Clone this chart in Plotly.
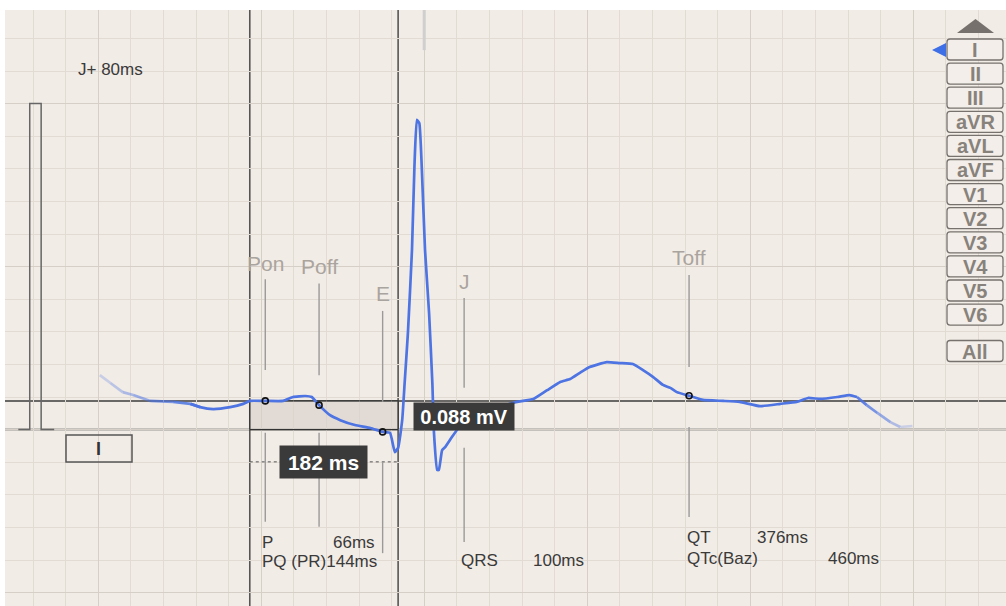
import numpy as np
import plotly.graph_objects as go

# ---------------- data ----------------
time_ms = [2, 15, 30, 43, 64, 92, 113, 125, 141, 162, 178, 186, 205, 227, 239, 254, 262, 271,
           284, 297, 315, 334, 349, 358, 364, 368, 373, 376, 380, 385, 388, 391, 394, 397, 401,
           406, 410, 412, 416, 418, 422, 426, 434, 442, 450, 469, 487, 505, 514, 534, 551, 567,
           579, 591, 603, 624, 640, 656, 668, 681, 693, 702, 710, 726, 742, 767, 787, 812, 837,
           857, 871, 886, 907, 922, 931, 943, 956, 972, 984, 999]
volt_mv = [0.167, 0.143, 0.115, 0.106, 0.088, 0.085, 0.079, 0.069, 0.063, 0.069, 0.079, 0.088,
           0.088, 0.088, 0.100, 0.103, 0.100, 0.075, 0.045, 0.029, 0.014, 0.005, -0.007, -0.010,
           -0.069, -0.056, 0.029, 0.143, 0.296, 0.551, 0.805, 0.950, 0.940, 0.805, 0.551, 0.357,
           0.143, -0.010, -0.124, -0.124, -0.063, -0.053, -0.023, 0.005, 0.029, 0.054, 0.069,
           0.079, 0.085, 0.094, 0.121, 0.146, 0.155, 0.174, 0.192, 0.207, 0.204, 0.201, 0.183,
           0.161, 0.137, 0.128, 0.115, 0.103, 0.091, 0.088, 0.085, 0.072, 0.079, 0.085, 0.097,
           0.094, 0.100, 0.106, 0.100, 0.075, 0.051, 0.023, 0.008, 0.011]

fid_names = ["Pon", "Poff", "E", "J", "Toff"]
fid_times = [205, 271, 349, 449, 725]
fid_dots = ["Pon", "Poff", "E", "Toff"]
fid_upper = [(0.461, 0.183), (0.448, 0.167), (0.364, 0.085), (0.404, 0.128), (0.474, 0.192)]
fid_lower = [(-0.010, -0.283), (-0.010, -0.298), (-0.099, -0.379), (-0.056, -0.345), (0.008, -0.268)]
fid_label_y = [0.510, 0.499, 0.419, 0.453, 0.529]

st_level_mv = 0.088
box_start_ms, box_end_ms = 186, 368
j_plus_ms = 80
qtc_baz_ms = 460
cal_pulse_mv = 1.0
r_mark_ms = 400

leads = ["I", "II", "III", "aVR", "aVL", "aVF", "V1", "V2", "V3", "V4", "V5", "V6"]

# ---------------- scales ----------------
X_RANGE = [-114.36, 1113.87]
Y_RANGE = [-0.5411, 1.2871]
BG = "#f2ece6"
FONT = "Liberation Sans, Arial, sans-serif"
TRACE = "#4d74e2"

def px(x):
    return (x - 5) / 1001.0

def py(y):
    return (606 - y) / 596.0

fid = dict(zip(fid_names, fid_times))
t = np.array(time_ms, float)
v = np.array(volt_mv, float)

fig = go.Figure()

# faded start / end segments
fade_in_end, fade_out_start = 125, 928
for i in range(len(t) - 1):
    tm = 0.5 * (t[i] + t[i + 1])
    if tm < fade_in_end:
        a = 0.2 + 0.8 * tm / fade_in_end
    elif tm > fade_out_start:
        a = max(0.15, 1 - 0.85 * (tm - fade_out_start) / (t[-1] - fade_out_start))
    else:
        continue
    fig.add_trace(go.Scatter(x=t[i:i + 2], y=v[i:i + 2], mode="lines",
                             line=dict(color=f"rgba(77,116,226,{a:.2f})", width=2.7, shape="spline"),
                             hoverinfo="skip", showlegend=False))
mask = (t >= t[t < fade_in_end].max()) & (t <= t[t > fade_out_start].min())
fig.add_trace(go.Scatter(x=t[mask], y=v[mask], mode="lines",
                         line=dict(color=TRACE, width=2.7, shape="spline", smoothing=0.4),
                         showlegend=False, hoverinfo="skip"))

# fiducial dots
dot_t = [fid[n] for n in fid_dots]
dot_v = np.interp(dot_t, t, v)
fig.add_trace(go.Scatter(x=dot_t, y=dot_v, mode="markers",
                         marker=dict(symbol="circle-open", size=6, color="#111",
                                     line=dict(width=1.6, color="#111")),
                         showlegend=False, hoverinfo="skip"))

shapes = []
annos = []

# baseline and ST-level horizontal lines
for yv in (0.0, st_level_mv):
    shapes.append(dict(type="line", xref="paper", yref="y", x0=0, x1=1, y0=yv, y1=yv,
                       line=dict(color="#3c3c3c", width=1.5), layer="between"))
# shaded box
shapes.append(dict(type="rect", xref="x", yref="y", x0=box_start_ms, x1=box_end_ms,
                   y0=0, y1=st_level_mv, fillcolor="rgba(215,208,202,0.6)",
                   line=dict(color="#333", width=1.2), layer="between"))
# full height verticals
for xv in (box_start_ms, box_end_ms):
    shapes.append(dict(type="line", xref="x", yref="paper", x0=xv, x1=xv, y0=0, y1=1,
                       line=dict(color="#555", width=1.6), layer="between"))
# R mark at top
shapes.append(dict(type="line", xref="x", yref="y", x0=r_mark_ms, x1=r_mark_ms,
                   y0=Y_RANGE[1], y1=1.164, line=dict(color="#cfcfcf", width=3), layer="between"))
# dotted 182 ms line
shapes.append(dict(type="line", xref="x", yref="y", x0=box_start_ms, x1=box_end_ms,
                   y0=-0.099, y1=-0.099, line=dict(color="#555", width=1, dash="dot"),
                   layer="between"))
# calibration pulse
cx0, cx1 = -84, -70
shapes.append(dict(type="path", xref="x", yref="y",
                   path=f"M {cx0-14},0 L {cx0},0 L {cx0},{cal_pulse_mv} L {cx1},{cal_pulse_mv} L {cx1},0 L {cx1+16},0",
                   line=dict(color="#666", width=1.5), layer="between"))

# fiducial marker lines + labels
for name, (u0, u1), (l0, l1), ly in zip(fid_names, fid_upper, fid_lower, fid_label_y):
    xv = fid[name]
    for a0, a1 in ((u0, u1), (l0, l1)):
        shapes.append(dict(type="line", xref="x", yref="y", x0=xv, x1=xv, y0=a0, y1=a1,
                           line=dict(color="#9a9a9a", width=1.4), layer="between"))
    annos.append(dict(x=xv, y=ly, xref="x", yref="y", text=name, showarrow=False,
                      font=dict(family=FONT, size=21, color="#aaa49e"),
                      xanchor="center", yanchor="middle"))

# measurement texts
P_dur = fid["Poff"] - fid["Pon"]
PQ_dur = fid["E"] - fid["Pon"]
QRS_dur = fid["J"] - fid["E"]
QT_dur = fid["Toff"] - fid["E"]
meas = [
    ("J+ " + f"{j_plus_ms}ms", -27, 1.106),
    ("P", 199, -0.345), (f"{P_dur}ms", 286, -0.345),
    ("PQ (PR)" + f"{PQ_dur}ms", 199, -0.406),
    ("QRS", 443, -0.403), (f"{QRS_dur}ms", 531, -0.403),
    ("QT", 720, -0.330), (f"{QT_dur}ms", 806, -0.330),
    ("QTc(Baz)", 720, -0.394), (f"{qtc_baz_ms}ms", 893, -0.394),
]
for txt, xx, yy in meas:
    annos.append(dict(x=xx, y=yy, xref="x", yref="y", text=txt, showarrow=False,
                      font=dict(family=FONT, size=17, color="#3a3a3a"),
                      xanchor="left", yanchor="middle"))

# value boxes
annos.append(dict(x=449, y=0.040, xref="x", yref="y", text=f"<b>{st_level_mv:.3f} mV</b>",
                  showarrow=False, bgcolor="#3a3a3a", width=100, height=27, borderpad=0,
                  font=dict(family=FONT, size=20, color="white"), xanchor="center", yanchor="middle"))
annos.append(dict(x=276.5, y=-0.099, xref="x", yref="y",
                  text=f"<b>{box_end_ms - box_start_ms} ms</b>",
                  showarrow=False, bgcolor="#3a3a3a", width=87, height=32, borderpad=0,
                  font=dict(family=FONT, size=21, color="white"), xanchor="center", yanchor="middle"))

# lead box "I"
shapes.append(dict(type="rect", xref="paper", yref="paper", x0=px(66), x1=px(132),
                   y0=py(462), y1=py(435), line=dict(color="#555", width=1.5),
                   fillcolor="rgba(0,0,0,0)"))
annos.append(dict(x=px(98), y=py(448.5), xref="paper", yref="paper", text="<b>I</b>",
                  showarrow=False, font=dict(family=FONT, size=18, color="#333"),
                  xanchor="center", yanchor="middle"))

# right lead panel
def rrect(x0, y0, x1, y1, r=3):
    pts = (f"M {px(x0 + r)},{py(y0)} L {px(x1 - r)},{py(y0)} Q {px(x1)},{py(y0)} {px(x1)},{py(y0 + r)} "
           f"L {px(x1)},{py(y1 - r)} Q {px(x1)},{py(y1)} {px(x1 - r)},{py(y1)} "
           f"L {px(x0 + r)},{py(y1)} Q {px(x0)},{py(y1)} {px(x0)},{py(y1 - r)} "
           f"L {px(x0)},{py(y0 + r)} Q {px(x0)},{py(y0)} {px(x0 + r)},{py(y0)} Z")
    return pts

btn_x0, btn_x1 = 947, 1003
for k, lab in enumerate(leads + ["All"]):
    top = 39 + 24.1 * k if lab != "All" else 340.5
    shapes.append(dict(type="path", xref="paper", yref="paper", path=rrect(btn_x0, top, btn_x1, top + 21),
                       line=dict(color="#77726d", width=1.3), fillcolor="#f3eee9"))
    annos.append(dict(x=px((btn_x0 + btn_x1) / 2), y=py(top + 11), xref="paper", yref="paper",
                      text=f"<b>{lab}</b>", showarrow=False,
                      font=dict(family=FONT, size=20, color="#88827c"),
                      xanchor="center", yanchor="middle"))
# up arrow
shapes.append(dict(type="path", xref="paper", yref="paper",
                   path=f"M {px(957)},{py(33)} L {px(994)},{py(33)} L {px(975.5)},{py(19)} Z",
                   fillcolor="#76716c", line=dict(width=0)))
# selected lead pointer
shapes.append(dict(type="path", xref="paper", yref="paper",
                   path=f"M {px(932)},{py(50)} L {px(946)},{py(43)} L {px(946)},{py(57)} Z",
                   fillcolor="#3f6fe6", line=dict(width=0)))

fig.update_layout(
    width=1006, height=606, autosize=False,
    margin=dict(l=5, r=0, t=10, b=0, pad=0),
    paper_bgcolor="white", plot_bgcolor=BG,
    shapes=shapes, annotations=annos, showlegend=False,
    xaxis=dict(range=X_RANGE, tick0=0, dtick=200, showgrid=True, gridcolor="#d6cfc8", gridwidth=1.2,
               minor=dict(tick0=0, dtick=40, showgrid=True, gridcolor="#e2dbd4", gridwidth=1),
               showticklabels=False, zeroline=False, ticks="", fixedrange=True),
    yaxis=dict(range=Y_RANGE, tick0=0, dtick=0.5, showgrid=True, gridcolor="#d6cfc8", gridwidth=1.2,
               minor=dict(tick0=0, dtick=0.1, showgrid=True, gridcolor="#e2dbd4", gridwidth=1),
               showticklabels=False, zeroline=False, ticks="", fixedrange=True),
)

fig.write_html("out.html", config={"displayModeBar": False},
               post_script="document.body.style.margin='0';")
